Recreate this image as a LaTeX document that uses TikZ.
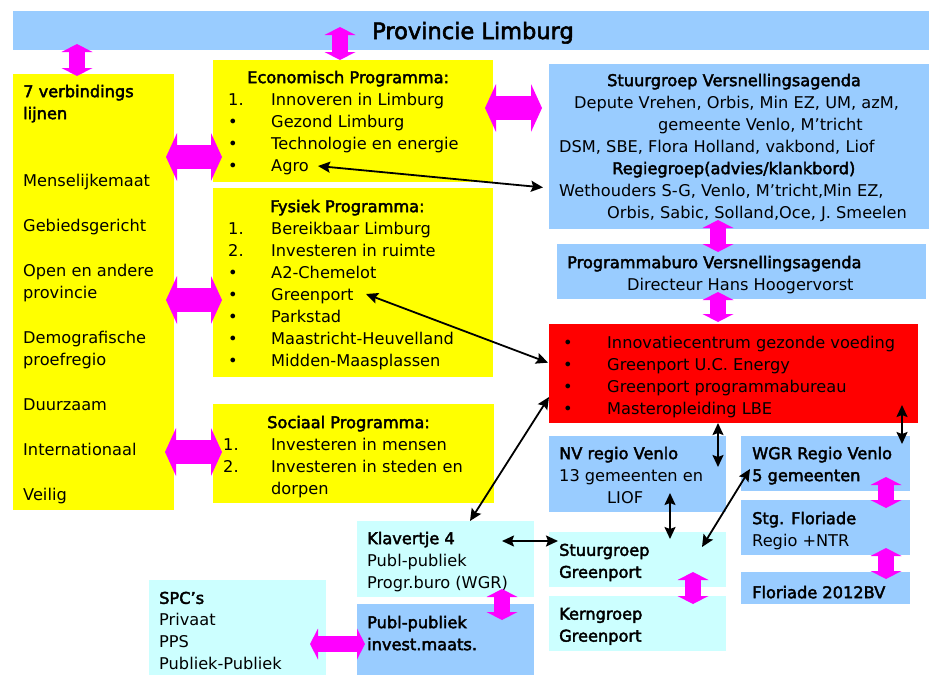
\documentclass[tikz,border=0pt]{standalone}
\usepackage{fontspec}
\setmainfont{DejaVu Sans}[BoldFont={DejaVu Sans},BoldFeatures={FakeBold=2.5}]
\usetikzlibrary{arrows.meta}
\definecolor{yel}{HTML}{FFFF00}
\definecolor{lblue}{HTML}{99CCFF}
\definecolor{lcyan}{HTML}{CCFFFF}
\definecolor{redbox}{HTML}{FF0000}
\definecolor{mag}{HTML}{FF00FF}
\newcommand{\itm}[2][43pt]{\makebox[#1][l]{#2}}
\begin{document}
\begin{tikzpicture}[
        x=1pt, y=-1pt,
        font=\fontsize{16.2}{22}\selectfont
    ]
    \tikzset{
        boxnode/.style = {rectangle, anchor=north west, inner sep=0pt, outer sep=0pt, draw=none},
        textnode/.style = {anchor=north west, inner sep=0pt, align=left, yshift=6.4pt, execute at begin node=\strut},
        fatH/.style = {draw=mag, line width=24pt, {Triangle[width=48pt,length=11pt,line width=0pt]}-{Triangle[width=48pt,length=11pt,line width=0pt]}},
        fatV/.style = {draw=mag, line width=16pt, {Triangle[width=31pt,length=8pt,line width=0pt]}-{Triangle[width=31pt,length=8pt,line width=0pt]}},
        blackarrow/.style = {draw=black, line width=1.8pt, {Stealth[length=12pt,width=11pt,inset=2pt]}-{Stealth[length=12pt,width=11pt,inset=2pt]}}
    }
    \useasboundingbox (0,0) rectangle (929,675);
    \node[boxnode, fill=lblue, minimum width=916pt, minimum height=39pt] (bar) at (13,11) {};
    \node[boxnode, fill=yel, minimum width=161pt, minimum height=436pt] (seven) at (13,74) {};
    \node[boxnode, fill=yel, minimum width=280pt, minimum height=122pt] (econ) at (213,60) {};
    \node[boxnode, fill=yel, minimum width=280pt, minimum height=189pt] (fys) at (213,188) {};
    \node[boxnode, fill=yel, minimum width=281pt, minimum height=99pt] (soc) at (213,404) {};
    \node[boxnode, fill=lblue, minimum width=380pt, minimum height=165pt] (stuur) at (549,64) {};
    \node[boxnode, fill=lblue, minimum width=369pt, minimum height=55pt] (buro) at (557,244) {};
    \node[boxnode, fill=redbox, minimum width=369pt, minimum height=99pt] (innov) at (549,324) {};
    \node[boxnode, fill=lblue, minimum width=177pt, minimum height=76pt] (nv) at (549,436) {};
    \node[boxnode, fill=lblue, minimum width=169pt, minimum height=55pt] (wgr) at (741,436) {};
    \node[boxnode, fill=lblue, minimum width=169pt, minimum height=55pt] (stg) at (741,500) {};
    \node[boxnode, fill=lblue, minimum width=169pt, minimum height=32pt] (flor) at (741,572) {};
    \node[boxnode, fill=lcyan, minimum width=177pt, minimum height=55pt] (sgp) at (549,532) {};
    \node[boxnode, fill=lcyan, minimum width=177pt, minimum height=55pt] (kgp) at (549,596) {};
    \node[boxnode, fill=lcyan, minimum width=177pt, minimum height=76pt] (klav) at (357,521) {};
    \node[boxnode, fill=lblue, minimum width=177pt, minimum height=71pt] (publ) at (357,604) {};
    \node[boxnode, fill=lcyan, minimum width=177pt, minimum height=95pt] (spc) at (149,580) {};

    \node[font=\fontsize{22.5}{27}\selectfont\bfseries, anchor=base] (bartxt) at (473,39) {Provincie Limburg};
    \node[textnode] (seventxt) at (23,91) {\textbf{7 verbindings}\\ \textbf{lijnen}\\[45pt] Menselijkemaat\\[23pt] Gebiedsgericht\\[23pt] Open en andere\\ provincie\\[23pt] Demografische\\ proefregio\\[23pt] Duurzaam\\[23pt] Internationaal\\[23pt] Veilig};
    \node[textnode] (econtxt) at (228,77) {\hspace*{19pt}\textbf{Economisch Programma:}\\ \itm{1.}Innoveren in Limburg\\ \itm{•}Gezond Limburg\\ \itm{•}Technologie en energie\\ \itm{•}Agro};
    \node[textnode] (fystxt) at (228,206) {\hspace*{42pt}\textbf{Fysiek Programma:}\\ \itm{1.}Bereikbaar Limburg\\ \itm{2.}Investeren in ruimte\\ \itm{•}A2-Chemelot\\ \itm{•}Greenport\\ \itm{•}Parkstad\\ \itm{•}Maastricht-Heuvelland\\ \itm{•}Midden-Maasplassen};
    \node[textnode] (soctxt) at (223,422) {\hspace*{44pt}\textbf{Sociaal Programma:}\\ \itm[48pt]{1.}Investeren in mensen\\ \itm[48pt]{2.}Investeren in steden en\\ \hspace*{48pt}dorpen};
    \node[textnode] (stuurtxt) at (559,80) {\hspace*{48pt}\textbf{Stuurgroep Versnellingsagenda}\\ \hspace*{15pt}Depute Vrehen, Orbis, Min EZ, UM, azM,\\ \hspace*{99pt}gemeente Venlo, M’tricht\\ DSM, SBE, Flora Holland, vakbond, Liof\\ \hspace*{53pt}\textbf{Regiegroep(advies/klankbord)}\\ Wethouders S-G, Venlo, M’tricht,Min EZ,\\ \hspace*{48pt}Orbis, Sabic, Solland,Oce, J. Smeelen};
    \node[textnode] (burotxt) at (567,262) {\textbf{Programmaburo Versnellingsagenda}\\ \hspace*{60pt}Directeur Hans Hoogervorst};
    \node[textnode] (innovtxt) at (563,342) {\itm[44pt]{•}Innovatiecentrum gezonde voeding\\ \itm[44pt]{•}Greenport U.C. Energy\\ \itm[44pt]{•}Greenport programmabureau\\ \itm[44pt]{•}Masteropleiding LBE};
    \node[textnode] (nvtxt) at (559,453) {\textbf{NV regio Venlo}\\ 13 gemeenten en\\ \hspace*{48pt}LIOF};
    \node[textnode] (wgrtxt) at (752,453) {\textbf{WGR Regio Venlo}\\ \textbf{5 gemeenten}};
    \node[textnode] (stgtxt) at (752,518) {\textbf{Stg. Floriade}\\ Regio +NTR};
    \node[textnode] (flortxt) at (752,589) {\textbf{Floriade 2012BV}};
    \node[textnode] (sgptxt) at (559,550) {\textbf{Stuurgroep}\\ \textbf{Greenport}};
    \node[textnode] (kgptxt) at (559,614) {\textbf{Kerngroep}\\ \textbf{Greenport}};
    \node[textnode] (klavtxt) at (367,538) {\textbf{Klavertje 4}\\ Publ-publiek\\ Progr.buro (WGR)};
    \node[textnode] (publtxt) at (367,622) {\textbf{Publ-publiek}\\ \textbf{invest.maats.}};
    \node[textnode] (spctxt) at (159,598) {\textbf{SPC’s}\\ Privaat\\ PPS\\ Publiek-Publiek};
    \coordinate (agro) at (318,166);
    \coordinate (grnport) at (366,294);

    \draw[fatV, shorten <=-6pt, shorten >=-2pt] (bar.south -| 77,0) -- (seven.north -| 77,0);
    \draw[fatV, shorten <=-23pt] (bar.south -| 340,0) -- (econ.north -| 340,0);
    \draw[fatV, shorten <=-9pt, shorten >=-8pt] (stuur.south -| 718,0) -- (buro.north -| 718,0);
    \draw[fatV, shorten <=-7pt, shorten >=2pt] (buro.south -| 718,0) -- (innov.north -| 718,0);
    \draw[fatV, shorten <=-15pt, shorten >=-8pt] (sgp.south -| 693,0) -- (kgp.north -| 693,0);
    \draw[fatV, shorten <=-14pt, shorten >=-8pt] (wgr.south -| 886,0) -- (stg.north -| 886,0);
    \draw[fatV, shorten <=-7pt, shorten >=-7pt] (stg.south -| 886,0) -- (flor.north -| 886,0);
    \draw[fatV, shorten <=-8pt, shorten >=-16pt] (klav.south -| 502,0) -- (publ.north -| 502,0);
    \draw[fatV, shorten <=-16pt, shorten >=-8pt] (spc.east |- 0,644) -- (publ.west |- 0,644);
    \draw[fatH, shorten <=-8pt, shorten >=-9pt] (seven.east |- 0,157) -- (econ.west |- 0,157);
    \draw[fatH, shorten <=-8pt, shorten >=-9pt] (seven.east |- 0,300) -- (fys.west |- 0,300);
    \draw[fatH, shorten <=-9pt, shorten >=-9pt] (seven.east |- 0,452) -- (soc.west |- 0,452);
    \draw[fatH, shorten <=-8pt, shorten >=7pt] (econ.east |- 0,108) -- (stuur.west |- 0,108);

    \draw[blackarrow, shorten >=6pt] (agro) -- (stuur.west |- 0,188);
    \draw[blackarrow, shorten >=1pt] (grnport) -- (innov.west |- 0,363);
    \draw[blackarrow] (klav.north -| 470,0) -- (innov.west |- 0,397);
    \draw[blackarrow, shorten <=-32pt, shorten >=-9pt] (klav.east |- 0,541) -- (sgp.west |- 0,541);
    \draw[blackarrow, shorten >=-31pt] (innov.south -| 718,0) -- (nv.north -| 718,0);
    \draw[blackarrow, shorten <=-18pt, shorten >=-8pt] (innov.south -| 902,0) -- (wgr.north -| 902,0);
    \draw[blackarrow, shorten <=-19pt, shorten >=-7pt] (nv.south -| 670,0) -- (sgp.north -| 670,0);
    \draw[blackarrow] ([xshift=-24pt,yshift=-15pt]sgp.north east) -- ([xshift=9pt,yshift=22pt]wgr.south west);
\end{tikzpicture}
\end{document}
